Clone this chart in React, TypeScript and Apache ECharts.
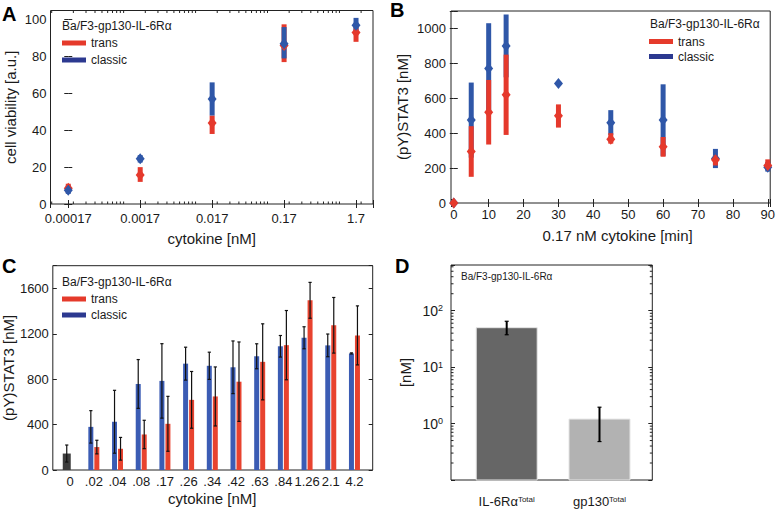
import React, { useEffect, useRef } from "react";
import * as echarts from "echarts";

// ---------- Panel A: cell viability vs cytokine (log x) ----------
const concA = [0.00017, 0.0017, 0.017, 0.17, 1.7];
const concLabelsA = ["0.00017", "0.0017", "0.017", "0.17", "1.7"];
const transA = [8.6, 15.8, 44, 86, 93];
const transALow = [6, 12, 38, 77, 88];
const transAHigh = [11, 20, 48, 97.5, 96];
const classicA = [7.5, 24.5, 57, 87, 97];
const classicALow = [5.5, 22.5, 48, 79, 94];
const classicAHigh = [10, 26.5, 66, 96, 101];

// ---------- Panel B: time course ----------
const timeB = [0, 5, 10, 15, 30, 45, 60, 75, 90];
const transB = [0, 295, 520, 620, 500, 365, 322, 248, 215];
const transBLow = [0, 150, 335, 390, 432, 340, 265, 215, 190];
const transBHigh = [0, 440, 705, 850, 565, 400, 378, 275, 250];
const classicB = [0, 475, 770, 900, 685, 460, 475, 255, 205];
const classicBLow = [0, 260, 510, 720, 675, 390, 270, 200, 180];
const classicBHigh = [0, 690, 1030, 1080, 695, 532, 680, 310, 235];

// ---------- Panel C: dose response bars ----------
const catsC = ["0", ".02", ".04", ".08", ".17", ".26", ".34", ".42", ".63", ".84", "1.26", "2.1", "4.2"];
const controlC = [145];
const controlCErr = [75];
const classicC = [null, 380, 425, 758, 785, 937, 918, 905, 1002, 1090, 1165, 1098, 1027];
const classicCErr = [null, 143, 277, 215, 328, 145, 120, 232, 110, 95, 97, 100, 5];
const transC = [null, 202, 187, 313, 407, 618, 648, 778, 953, 1100, 1495, 1275, 1186];
const transCErr = [null, 60, 100, 125, 242, 250, 260, 350, 335, 305, 158, 245, 260];

// ---------- Panel D: totals (log y) ----------
const catsD = ["IL-6Rα", "gp130"];
const valsD = [50, 1.2];
const lowD = [37.5, 0.48];
const highD = [65, 1.95];

const FONT = "'Liberation Sans', Arial, Helvetica, sans-serif";
const RED = "#e5392c";
const BLUE = "#2f57a8";
const RED_LEG = "#e53a2b";
const BLUE_LEG = "#2c3990";
const C_RED = "#e8432f";
const C_BLUE = "#3b5cb4";
const C_DARK = "#3d3d3d";
const D_DARK = "#666666";
const D_LIGHT = "#b2b2b2";
const INK = "#1a1a1a";

const tick = { show: true, inside: true, length: 4, lineStyle: { color: "#222", width: 1 } };
const lbl = { fontSize: 13, color: INK, fontFamily: FONT };
const nameStyle = { fontSize: 15, color: INK, fontFamily: FONT };
const frame = { show: true, borderColor: "#222", borderWidth: 1, backgroundColor: "transparent" };

const uA = concA.map((c) => Math.log10(c / concA[0]));

function errBar(name: string, xi: number, yi: number, xs: number[], lo: number[], hi: number[], color: string) {
  return {
    type: "custom",
    name,
    xAxisIndex: xi,
    yAxisIndex: yi,
    silent: true,
    clip: false,
    data: xs.map((x, i) => [x, lo[i], hi[i]]),
    encode: { x: 0, y: [1, 2] },
    renderItem: (params: any, api: any) => {
      const l = api.coord([api.value(0), api.value(1)]);
      const h = api.coord([api.value(0), api.value(2)]);
      return {
        type: "rect",
        shape: { x: l[0] - 2.5, y: h[1], width: 5, height: Math.max(l[1] - h[1], 0.5) },
        style: { fill: color },
      };
    },
  };
}

function points(name: string, xi: number, yi: number, xs: number[], ys: number[], color: string) {
  return {
    type: "scatter",
    name,
    xAxisIndex: xi,
    yAxisIndex: yi,
    silent: true,
    clip: false,
    symbol: "diamond",
    symbolSize: [9, 11],
    itemStyle: { color, opacity: 1 },
    data: xs.map((x, i) => [x, ys[i]]),
  };
}

function thinErr(name: string, vals: (number | null)[], errs: (number | null)[], offset: number) {
  const data: number[][] = [];
  vals.forEach((v, i) => {
    if (v != null && errs[i] != null) data.push([i, v - (errs[i] as number), v + (errs[i] as number)]);
  });
  return {
    type: "custom",
    name,
    xAxisIndex: 5,
    yAxisIndex: 6,
    silent: true,
    clip: false,
    z: 5,
    data,
    encode: { x: 0, y: [1, 2] },
    renderItem: (params: any, api: any) => {
      const l = api.coord([api.value(0), api.value(1)]);
      const h = api.coord([api.value(0), api.value(2)]);
      const x = l[0] + offset;
      const st = { stroke: "#111", lineWidth: 1.2 };
      return {
        type: "group",
        children: [
          { type: "line", shape: { x1: x, y1: l[1], x2: x, y2: h[1] }, style: st },
          { type: "line", shape: { x1: x - 1.6, y1: h[1], x2: x + 1.6, y2: h[1] }, style: st },
          { type: "line", shape: { x1: x - 1.6, y1: l[1], x2: x + 1.6, y2: l[1] }, style: st },
        ],
      };
    },
  };
}

// log minor tick positions (axis decoration)
const minorA: number[][] = [];
for (let n = -5; n <= 1; n++) {
  for (let k = 1; k <= 9; k++) {
    const u = Math.log10((k * Math.pow(10, n)) / concA[0]);
    if (u > -0.247 && u < 4.236) minorA.push([u, 0]);
  }
}
const minorD: number[][] = [];
for (let n = -1; n <= 2; n++) {
  for (let k = 2; k <= 9; k++) {
    const y = Math.log10(k * Math.pow(10, n));
    if (y > -1 && y < 2.81) minorD.push([0, y]);
  }
}

function buildOption(): any {
  const legendBase = {
    orient: "vertical",
    icon: "rect",
    itemWidth: 24,
    itemHeight: 5,
    padding: 0,
    selectedMode: false,
    textStyle: { fontSize: 12, color: INK, fontFamily: FONT, lineHeight: 16 },
    data: [
      { name: "trans", itemStyle: { color: RED_LEG } },
      { name: "classic", itemStyle: { color: BLUE_LEG } },
    ],
  };
  const title = (x: number, y: number, size = 12) => ({
    type: "text",
    left: x,
    top: y,
    style: { text: "Ba/F3-gp130-IL-6Rα", fontSize: size, fill: INK, fontFamily: FONT },
  });
  const letter = (t: string, x: number, y: number) => ({
    type: "text",
    left: x,
    top: y,
    style: { text: t, fontSize: 20, fontWeight: "bold", fill: "#000", fontFamily: FONT },
  });

  return {
    animation: false,
    backgroundColor: "#fff",
    textStyle: { fontFamily: FONT },
    grid: [
      { left: 50.5, top: 10.5, width: 322.5, height: 193.5, ...frame },
      { left: 451, top: 11, width: 325, height: 192, ...frame },
      { left: 48.3, top: 265.7, width: 324.4, height: 204.3, ...frame },
      { left: 58.3, top: 265.7, width: 308, height: 204.3, show: false },
      { left: 451, top: 265, width: 201.3, height: 215, ...frame },
      { left: 460.3, top: 265, width: 185.6, height: 215, show: false },
    ],
    legend: [
      { ...legendBase, left: 62, top: 35, itemGap: 1 },
      { ...legendBase, left: 649, top: 34, itemGap: 0, textStyle: { ...legendBase.textStyle, lineHeight: 15 } },
      { ...legendBase, left: 62, top: 291, itemGap: 0 },
    ],
    xAxis: [
      {
        gridIndex: 0, type: "value", min: -0.247, max: 4.236, splitNumber: 5,
        axisLine: { show: false }, axisTick: tick, splitLine: { show: false },
        axisLabel: {
          ...lbl, margin: 8,
          formatter: (v: number) => {
            const i = Math.round(v);
            return Math.abs(v - i) < 1e-6 && i >= 0 && i < concLabelsA.length ? concLabelsA[i] : "";
          },
        },
        name: "cytokine [nM]", nameLocation: "middle", nameGap: 27, nameTextStyle: nameStyle,
      },
      {
        gridIndex: 0, type: "value", position: "top", min: -0.247, max: 4.236, splitNumber: 5,
        axisLine: { show: false }, axisTick: tick, splitLine: { show: false }, axisLabel: { show: false },
      },
      {
        gridIndex: 1, type: "value", min: -0.8, max: 90.7, splitNumber: 9,
        axisLine: { show: false }, axisTick: tick, splitLine: { show: false },
        axisLabel: {
          ...lbl, margin: 5,
          formatter: (v: number) => (Math.abs(v % 10) < 1e-6 && v >= 0 ? String(v) : ""),
        },
        name: "0.17 nM cytokine [min]", nameLocation: "middle", nameGap: 25,
        nameTextStyle: { ...nameStyle, padding: [0, 0, 0, 14] },
      },
      {
        gridIndex: 1, type: "value", position: "top", min: -0.8, max: 90.7, splitNumber: 9,
        axisLine: { show: false }, axisTick: tick, splitLine: { show: false }, axisLabel: { show: false },
      },
      { gridIndex: 2, type: "value", min: 0, max: 1, show: false },
      {
        gridIndex: 3, type: "category", data: catsC,
        axisLine: { show: false }, axisTick: { show: false }, splitLine: { show: false },
        axisLabel: { ...lbl, margin: 5, interval: 0 },
        name: "cytokine [nM]", nameLocation: "middle", nameGap: 21, nameTextStyle: nameStyle,
      },
      {
        gridIndex: 5, type: "category", data: catsD,
        axisLine: { show: false }, axisTick: { show: false }, splitLine: { show: false },
        axisLabel: {
          ...lbl, margin: 15, interval: 0,
          formatter: (v: string) => `${v}{sup|Total}`,
          rich: { sup: { fontSize: 8, verticalAlign: "top", color: INK, fontFamily: FONT } },
        },
      },
      { gridIndex: 4, type: "value", min: 0, max: 1, show: false },
    ],
    yAxis: [
      {
        gridIndex: 0, type: "value", min: 0, max: 105, interval: 20,
        axisLine: { show: false }, axisTick: tick, splitLine: { show: false },
        axisLabel: { ...lbl, margin: 4, formatter: (v: number) => (v <= 100 ? String(v) : "") },
        name: "cell viability [a.u.]", nameLocation: "middle", nameGap: 33, nameTextStyle: nameStyle,
      },
      {
        gridIndex: 0, type: "value", position: "right", min: 0, max: 105, interval: 20,
        axisLine: { show: false }, axisTick: tick, splitLine: { show: false }, axisLabel: { show: false },
      },
      {
        gridIndex: 1, type: "value", min: 0, max: 1100, interval: 200,
        axisLine: { show: false }, axisTick: tick, splitLine: { show: false },
        axisLabel: { ...lbl, margin: 5, formatter: (v: number) => (v <= 1000 ? String(v) : "") },
        name: "(pY)STAT3 [nM]", nameLocation: "middle", nameGap: 41, nameTextStyle: nameStyle,
      },
      {
        gridIndex: 1, type: "value", position: "right", min: 0, max: 1100, interval: 200,
        axisLine: { show: false }, axisTick: tick, splitLine: { show: false }, axisLabel: { show: false },
      },
      {
        gridIndex: 2, type: "value", min: 0, max: 1800, interval: 400,
        axisLine: { show: false }, axisTick: tick, splitLine: { show: false },
        axisLabel: { ...lbl, margin: 4, formatter: (v: number) => (v <= 1600 ? String(v) : "") },
        name: "(pY)STAT3 [nM]", nameLocation: "middle", nameGap: 33, nameTextStyle: nameStyle,
      },
      {
        gridIndex: 2, type: "value", position: "right", min: 0, max: 1800, interval: 400,
        axisLine: { show: false }, axisTick: tick, splitLine: { show: false }, axisLabel: { show: false },
      },
      { gridIndex: 3, type: "value", min: 0, max: 1800, show: false },
      {
        gridIndex: 4, type: "value", min: -1, max: 2.81, interval: 1,
        axisLine: { show: false }, axisTick: tick, splitLine: { show: false },
        axisLabel: {
          ...lbl, fontSize: 14, margin: 8,
          formatter: (v: number) => (v >= 0 && v <= 2 && Math.abs(v - Math.round(v)) < 1e-6 ? `10{sup|${Math.round(v)}}` : ""),
          rich: { sup: { fontSize: 9, verticalAlign: "top", color: INK, fontFamily: FONT } },
        },
        name: "[nM]", nameLocation: "middle", nameGap: 38, nameTextStyle: nameStyle,
      },
      {
        gridIndex: 4, type: "value", position: "right", min: -1, max: 2.81, interval: 1,
        axisLine: { show: false }, axisTick: tick, splitLine: { show: false }, axisLabel: { show: false },
      },
      { gridIndex: 5, type: "value", min: -1, max: 2.81, show: false },
    ],
    graphic: [
      letter("A", 2, 4),
      letter("B", 390, 0),
      letter("C", 2, 256),
      letter("D", 395, 256),
      title(62, 20),
      title(650, 18),
      title(62, 276),
      title(461, 271, 10),
    ],
    series: [
      // A minor log ticks
      {
        type: "custom", xAxisIndex: 0, yAxisIndex: 0, silent: true, clip: false, z: 6,
        data: minorA,
        renderItem: (params: any, api: any) => {
          const x = api.coord([api.value(0), 0])[0];
          const cs = params.coordSys;
          const st = { stroke: "#222", lineWidth: 1 };
          return {
            type: "group",
            children: [
              { type: "line", shape: { x1: x, y1: cs.y + cs.height, x2: x, y2: cs.y + cs.height - 2.5 }, style: st },
              { type: "line", shape: { x1: x, y1: cs.y, x2: x, y2: cs.y + 2.5 }, style: st },
            ],
          };
        },
      },
      // A: blue drawn on top of red
      errBar("trans", 0, 0, uA, transALow, transAHigh, RED),
      points("trans", 0, 0, uA, transA, RED),
      errBar("classic", 0, 0, uA, classicALow, classicAHigh, BLUE),
      points("classic", 0, 0, uA, classicA, BLUE),
      // B: red drawn on top of blue
      errBar("classic", 2, 2, timeB, classicBLow, classicBHigh, BLUE),
      points("classic", 2, 2, timeB, classicB, BLUE),
      errBar("trans", 2, 2, timeB, transBLow, transBHigh, RED),
      points("trans", 2, 2, timeB, transB, RED),
      // C bars
      {
        type: "bar", name: "classic", xAxisIndex: 5, yAxisIndex: 6, silent: true,
        data: classicC, barWidth: 5, barGap: "20%", itemStyle: { color: C_BLUE },
      },
      {
        type: "bar", name: "trans", xAxisIndex: 5, yAxisIndex: 6, silent: true,
        data: transC, barWidth: 5, barGap: "20%", itemStyle: { color: C_RED },
      },
      {
        type: "custom", name: "control", xAxisIndex: 5, yAxisIndex: 6, silent: true,
        data: controlC.map((v, i) => [i, v]),
        renderItem: (params: any, api: any) => {
          const t = api.coord([api.value(0), api.value(1)]);
          const b = api.coord([api.value(0), 0]);
          return { type: "rect", shape: { x: t[0] - 7.4, y: t[1], width: 8, height: b[1] - t[1] }, style: { fill: C_DARK } };
        },
      },
      thinErr("classic", classicC, classicCErr, -3),
      thinErr("trans", transC, transCErr, 3),
      thinErr("control", controlC, controlCErr, -3.4),
      // D bars
      {
        type: "custom", name: "total", xAxisIndex: 6, yAxisIndex: 9, silent: true,
        data: valsD.map((v, i) => [i, Math.log10(v)]),
        renderItem: (params: any, api: any) => {
          const t = api.coord([api.value(0), api.value(1)]);
          const b = api.coord([api.value(0), -1]);
          const w = api.size([1, 0])[0] * 0.657;
          return {
            type: "rect",
            shape: { x: t[0] - w / 2, y: t[1], width: w, height: b[1] - t[1] },
            style: { fill: params.dataIndex === 0 ? D_DARK : D_LIGHT, stroke: "#e4e4e4", lineWidth: 1 },
          };
        },
      },
      {
        type: "custom", name: "totalErr", xAxisIndex: 6, yAxisIndex: 9, silent: true, z: 5,
        data: valsD.map((v, i) => [i, Math.log10(lowD[i]), Math.log10(highD[i])]),
        encode: { x: 0, y: [1, 2] },
        renderItem: (params: any, api: any) => {
          const l = api.coord([api.value(0), api.value(1)]);
          const h = api.coord([api.value(0), api.value(2)]);
          const st = { stroke: "#000", lineWidth: 2 };
          return {
            type: "group",
            children: [
              { type: "line", shape: { x1: l[0], y1: l[1], x2: l[0], y2: h[1] }, style: st },
              { type: "line", shape: { x1: l[0] - 2, y1: h[1], x2: l[0] + 2, y2: h[1] }, style: { stroke: "#000", lineWidth: 1.2 } },
              { type: "line", shape: { x1: l[0] - 2, y1: l[1], x2: l[0] + 2, y2: l[1] }, style: { stroke: "#000", lineWidth: 1.2 } },
            ],
          };
        },
      },
      // D minor log ticks
      {
        type: "custom", xAxisIndex: 7, yAxisIndex: 7, silent: true, clip: false, z: 6,
        data: minorD,
        renderItem: (params: any, api: any) => {
          const y = api.coord([0, api.value(1)])[1];
          const cs = params.coordSys;
          const st = { stroke: "#222", lineWidth: 1 };
          return {
            type: "group",
            children: [
              { type: "line", shape: { x1: cs.x, y1: y, x2: cs.x + 2.5, y2: y }, style: st },
              { type: "line", shape: { x1: cs.x + cs.width, y1: y, x2: cs.x + cs.width - 2.5, y2: y }, style: st },
            ],
          };
        },
      },
    ],
  };
}

export default function App() {
  const ref = useRef<HTMLDivElement>(null);
  useEffect(() => {
    if (!ref.current) return;
    const chart = echarts.init(ref.current, undefined, { renderer: "svg" });
    chart.setOption(buildOption());
    return () => chart.dispose();
  }, []);
  return (
    <div
      ref={ref}
      style={{ position: "fixed", left: 0, top: 0, width: 778, height: 509, background: "#fff" }}
    />
  );
}
